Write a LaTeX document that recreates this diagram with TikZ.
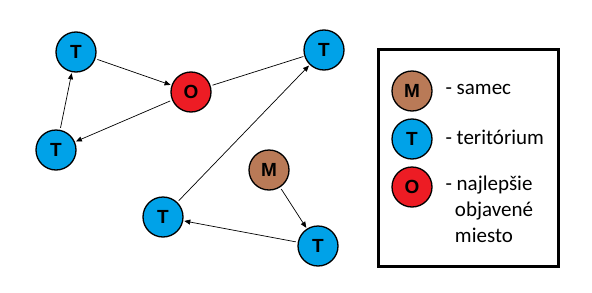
\documentclass[tikz,border=0pt]{standalone}
\usepackage{fontspec}
\setmainfont{Carlito}
\newfontfamily\circfont{Liberation Sans}
\usetikzlibrary{arrows.meta}
\definecolor{terblue}{HTML}{00A2E8}
\definecolor{bestred}{HTML}{ED1C24}
\definecolor{malebrown}{HTML}{B97A57}
\begin{document}
\begin{tikzpicture}[x=1pt,y=-1pt,
  spot/.style={circle,draw=black,line width=1.3pt,minimum size=40pt,inner sep=0pt,
    font=\circfont\fontsize{19}{19}\selectfont\bfseries},
  terr/.style={spot,fill=terblue},
  best/.style={spot,fill=bestred},
  male/.style={spot,fill=malebrown},
  link/.style={draw=black,line width=0.7pt,shorten <=2pt,shorten >=1pt},
  go/.style={link,-{Triangle[length=6pt,width=5pt]}},
  legtext/.style={anchor=west,font=\fontsize{21}{26}\selectfont,align=left}]
\useasboundingbox (0,0) rectangle (592,292);
% territories, the best spot and the male
\node[terr] (ta) at (76,52) {T};
\node[best] (o) at (191,92) {O};
\node[terr] (tb) at (324,50) {T};
\node[terr] (tc) at (56,150) {T};
\node[male] (m) at (269,170) {M};
\node[terr] (td) at (163,217) {T};
\node[terr] (te) at (318,246) {T};
% moves between them
\draw[go] (ta) -- (o);
\draw[go] (o) -- (tc);
\draw[go] (tc) -- (ta);
\draw[link] (o) -- (tb);
\draw[go] (td) -- (tb);
\draw[go] (m) -- (te);
\draw[go] (te) -- (td);
% legend
\node[draw=black,line width=3pt,minimum width=180pt,minimum height=217pt,inner sep=0pt] (box) at (468.5,158) {};
\node[male] (lm) at (412,91) {M};
\node[terr] (lt) at (412,139) {T};
\node[best] (lo) at (412,187) {O};
\node[legtext] (sm) at (442,89) {- samec};
\node[legtext] (st) at (442,137) {- teritórium};
\node[legtext,anchor=north west] (so) at (442,172) {- najlepšie\\\hspace*{0.45em}objavené\\\hspace*{0.45em}miesto};
\end{tikzpicture}
\end{document}
